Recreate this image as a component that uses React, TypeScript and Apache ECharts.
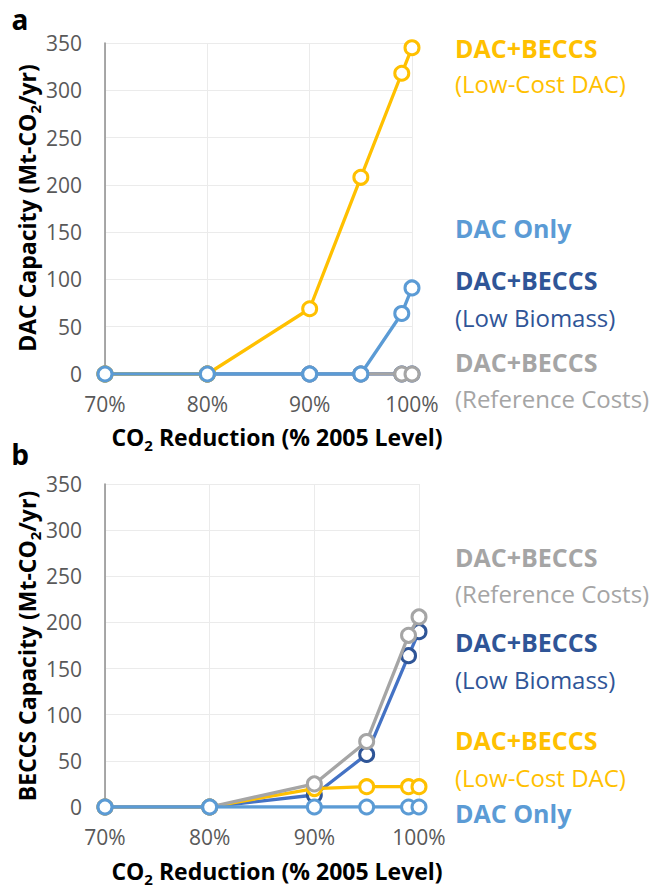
import React, { useEffect, useRef } from 'react';
import * as echarts from 'echarts';

// X positions (% reduction of 2005 CO2 level)
const reductionPct = [70, 80, 90, 95, 99, 100];

// Panel a: DAC capacity (Mt-CO2/yr)
const dacLowBiomass = [0, 0, 0, 0, 0, 0];
const dacReference = [0, 0, 0, 0, 0, 0];
const dacLowCost = [0, 0, 69, 208, 318, 345];
const dacOnly = [0, 0, 0, 0, 64, 91];

// Panel b: BECCS capacity (Mt-CO2/yr)
const beccsLowBiomass = [0, 0, 13, 57, 164, 190];
const beccsLowCost = [0, 0, 20, 22, 22, 22];
const beccsReference = [0, 0, 25, 71, 186, 206];
const beccsOnly = [0, 0, 0, 0, 0, 0];

const FONT = '"Open Sans", "Noto Sans", sans-serif';
const C_YELLOW = '#FFC000';
const C_LBLUE = '#5B9BD5';
const C_DBLUE_LINE = '#4472C4';
const C_DBLUE = '#2F5597';
const C_GRAY = '#A5A5A5';

function pairs(vals: number[]) {
  return reductionPct.map((x, i) => [x, vals[i]]);
}

function lineSeries(name: string, vals: number[], lineColor: string, markColor: string, idx: number, z: number) {
  return {
    type: 'line',
    name,
    xAxisIndex: idx,
    yAxisIndex: idx,
    data: pairs(vals),
    z,
    symbol: 'circle',
    symbolSize: 14,
    showSymbol: true,
    lineStyle: { color: lineColor, width: 3.3 },
    itemStyle: { color: '#ffffff', borderColor: markColor, borderWidth: 3 },
    emphasis: { disabled: true },
  };
}

function xAxisDef(idx: number) {
  return {
    type: 'value',
    gridIndex: idx,
    min: 70,
    max: 100,
    interval: 10,
    axisLine: { show: false },
    axisTick: { show: false },
    splitLine: { show: true, lineStyle: { color: '#EBEBEB', width: 1 } },
    axisLabel: {
      formatter: '{value}%',
      color: '#595959',
      fontFamily: FONT,
      fontSize: 21,
      margin: 19,
    },
  };
}

function yAxisDef(idx: number) {
  return {
    type: 'value',
    gridIndex: idx,
    min: 0,
    max: 350,
    interval: 50,
    axisLine: { show: true, lineStyle: { color: '#8C8C8C', width: 1.5 } },
    axisTick: { show: false },
    splitLine: { show: true, lineStyle: { color: '#EBEBEB', width: 1 } },
    axisLabel: {
      color: '#595959',
      fontFamily: FONT,
      fontSize: 21,
      margin: 23,
    },
  };
}

const richTitle = {
  b: { fontFamily: FONT, fontSize: 23, fontWeight: 'bold', fill: '#000', lineHeight: 30 },
  s: { fontFamily: FONT, fontSize: 15, fontWeight: 'bold', fill: '#000', lineHeight: 15, verticalAlign: 'bottom' },
};

function titleText(x: number, y: number, text: string, rotate: boolean) {
  return {
    type: 'text',
    x,
    y,
    rotation: rotate ? Math.PI / 2 : 0,
    style: {
      text,
      rich: richTitle,
      align: 'center',
      verticalAlign: 'middle',
    },
  };
}

function label(x: number, y: number, text: string, color: string, bold: boolean) {
  return {
    type: 'text',
    x,
    y,
    style: {
      text,
      fill: color,
      font: `${bold ? 'bold 25px' : '24px'} ${FONT}`,
      align: 'left',
      verticalAlign: 'middle',
    },
  };
}

export default function App() {
  const ref = useRef<HTMLDivElement>(null);
  useEffect(() => {
    if (!ref.current) return;
    const chart = echarts.init(ref.current, null, { renderer: 'svg' });
    chart.setOption({
      animation: false,
      backgroundColor: '#ffffff',
      grid: [
        { left: 105, top: 43, width: 307, height: 331 },
        { left: 105, top: 484, width: 314, height: 323 },
      ],
      xAxis: [xAxisDef(0), xAxisDef(1)],
      yAxis: [yAxisDef(0), yAxisDef(1)],
      series: [
        lineSeries('DAC+BECCS (Low Biomass)', dacLowBiomass, C_DBLUE_LINE, C_DBLUE, 0, 2),
        lineSeries('DAC+BECCS (Reference Costs)', dacReference, C_GRAY, C_GRAY, 0, 3),
        lineSeries('DAC+BECCS (Low-Cost DAC)', dacLowCost, C_YELLOW, C_YELLOW, 0, 4),
        lineSeries('DAC Only', dacOnly, C_LBLUE, C_LBLUE, 0, 5),
        lineSeries('DAC+BECCS (Low Biomass)', beccsLowBiomass, C_DBLUE_LINE, C_DBLUE, 1, 2),
        lineSeries('DAC+BECCS (Low-Cost DAC)', beccsLowCost, C_YELLOW, C_YELLOW, 1, 3),
        lineSeries('DAC+BECCS (Reference Costs)', beccsReference, C_GRAY, C_GRAY, 1, 4),
        lineSeries('DAC Only', beccsOnly, C_LBLUE, C_LBLUE, 1, 5),
      ],
      graphic: [
        { type: 'text', x: 20, y: 19, style: { text: 'a', font: `bold 28px ${FONT}`, fill: '#000', align: 'center', verticalAlign: 'middle' } },
        { type: 'text', x: 20, y: 454, style: { text: 'b', font: `bold 28px ${FONT}`, fill: '#000', align: 'center', verticalAlign: 'middle' } },
        titleText(277, 437, '{b|CO}{s|2}{b| Reduction (% 2005 Level)}', false),
        titleText(277, 871, '{b|CO}{s|2}{b| Reduction (% 2005 Level)}', false),
        titleText(27, 208, '{b|DAC Capacity (Mt-CO}{s|2}{b|/yr)}', true),
        titleText(27, 646, '{b|BECCS Capacity (Mt-CO}{s|2}{b|/yr)}', true),
        label(455, 48, 'DAC+BECCS', C_YELLOW, true),
        label(455, 83, '(Low-Cost DAC)', C_YELLOW, false),
        label(455, 228, 'DAC Only', C_LBLUE, true),
        label(455, 280, 'DAC+BECCS', C_DBLUE, true),
        label(455, 317, '(Low Biomass)', C_DBLUE, false),
        label(455, 362, 'DAC+BECCS', C_GRAY, true),
        label(455, 398, '(Reference Costs)', C_GRAY, false),
        label(455, 557, 'DAC+BECCS', C_GRAY, true),
        label(455, 593, '(Reference Costs)', C_GRAY, false),
        label(455, 642, 'DAC+BECCS', C_DBLUE, true),
        label(455, 679, '(Low Biomass)', C_DBLUE, false),
        label(455, 740, 'DAC+BECCS', C_YELLOW, true),
        label(455, 777, '(Low-Cost DAC)', C_YELLOW, false),
        label(455, 813, 'DAC Only', C_LBLUE, true),
      ],
    });
    return () => chart.dispose();
  }, []);
  return (
    <div
      ref={ref}
      style={{ position: 'absolute', left: 0, top: 0, width: 660, height: 887, background: '#fff' }}
    />
  );
}
